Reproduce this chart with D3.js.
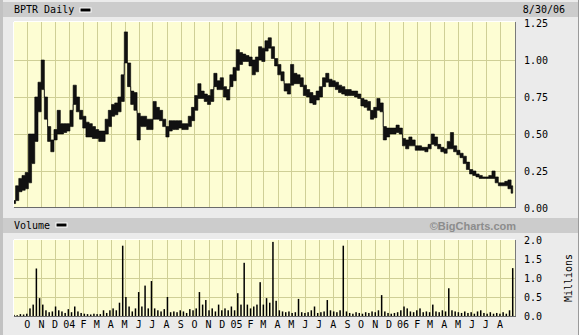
<!DOCTYPE html>
<html>
<head>
<meta charset="utf-8">
<script src="https://cdn.jsdelivr.net/npm/d3@7"></script>
<style>
body { margin:0; background:#ebebeb; }
svg { display:block; }
text { font-family:"DejaVu Sans Mono", monospace; font-size:10px; fill:#000; }
</style>
</head>
<body>
<script>
// weekly samples, first one on 2003-09-02, last one on 2006-08-29
var startDay = new Date(2003, 8, 2);
var priceHigh = [0.05,0.15,0.20,0.22,0.24,0.50,0.50,0.75,0.85,1.00,
  0.75,0.55,0.46,0.53,0.66,0.57,0.57,0.57,0.66,0.83,
  0.75,0.66,0.62,0.58,0.57,0.55,0.53,0.52,0.52,0.60,
  0.66,0.70,0.71,0.75,0.90,1.19,0.98,0.79,0.78,0.64,
  0.62,0.62,0.60,0.60,0.72,0.68,0.66,0.60,0.55,0.59,
  0.59,0.59,0.59,0.57,0.57,0.62,0.68,0.76,0.84,0.79,
  0.77,0.76,0.80,0.91,0.86,0.88,0.82,0.80,0.90,0.95,
  1.07,1.05,1.04,1.03,1.02,1.00,1.02,1.09,1.08,1.13,
  1.15,1.09,1.01,0.97,0.92,0.84,0.84,0.97,0.91,0.90,
  0.88,0.83,0.80,0.78,0.76,0.79,0.82,0.88,0.91,0.87,
  0.86,0.85,0.83,0.82,0.80,0.80,0.79,0.79,0.77,0.74,
  0.73,0.72,0.66,0.68,0.74,0.71,0.55,0.54,0.54,0.54,
  0.56,0.54,0.47,0.46,0.48,0.46,0.42,0.42,0.41,0.41,
  0.43,0.50,0.48,0.43,0.41,0.40,0.45,0.51,0.42,0.39,
  0.37,0.35,0.31,0.26,0.25,0.23,0.22,0.21,0.21,0.22,
  0.25,0.21,0.17,0.17,0.18,0.19,0.15];
var priceLow = [0.03,0.05,0.11,0.12,0.13,0.17,0.30,0.45,0.65,0.80,
  0.60,0.45,0.38,0.46,0.50,0.50,0.51,0.52,0.55,0.70,
  0.65,0.60,0.54,0.48,0.48,0.47,0.47,0.45,0.45,0.50,
  0.55,0.62,0.63,0.65,0.72,0.98,0.82,0.70,0.66,0.46,
  0.55,0.55,0.53,0.53,0.60,0.60,0.59,0.55,0.48,0.52,
  0.53,0.53,0.54,0.53,0.53,0.55,0.59,0.66,0.74,0.74,
  0.72,0.70,0.72,0.82,0.80,0.80,0.75,0.73,0.82,0.86,
  0.93,0.97,0.99,0.99,0.96,0.90,0.92,1.00,0.99,1.06,
  1.08,1.01,0.96,0.90,0.86,0.79,0.77,0.83,0.84,0.84,
  0.82,0.76,0.75,0.71,0.70,0.73,0.75,0.82,0.85,0.82,
  0.82,0.80,0.78,0.77,0.76,0.76,0.76,0.75,0.74,0.69,
  0.68,0.66,0.60,0.61,0.66,0.65,0.46,0.48,0.50,0.50,
  0.51,0.50,0.42,0.40,0.42,0.42,0.39,0.39,0.39,0.38,
  0.40,0.43,0.42,0.40,0.38,0.37,0.40,0.40,0.38,0.36,
  0.34,0.30,0.26,0.23,0.22,0.21,0.20,0.20,0.20,0.20,
  0.20,0.17,0.15,0.15,0.15,0.13,0.10];
var volume = [0.03,0.02,0.05,0.04,0.06,0.20,0.30,1.25,0.47,0.30,
  0.15,0.10,0.12,0.25,0.15,0.12,0.08,0.18,0.10,0.25,
  0.12,0.08,0.06,0.05,0.04,0.06,0.05,0.05,0.15,0.08,
  0.15,0.20,0.15,0.35,1.85,0.50,0.25,0.12,0.20,0.63,
  0.25,0.80,0.20,0.92,0.20,0.15,0.12,0.18,0.50,0.10,
  0.12,0.10,0.15,0.12,0.08,0.18,0.15,0.20,0.63,0.30,
  0.42,0.15,0.20,0.12,0.30,0.15,0.20,0.15,0.25,0.15,
  0.60,0.30,1.40,0.30,0.20,0.25,0.30,0.89,0.30,0.47,
  0.35,1.95,0.40,0.15,0.12,0.10,0.12,0.08,0.10,0.45,
  0.10,0.08,0.10,0.15,0.25,0.08,0.10,0.12,0.42,0.15,
  0.12,0.10,0.15,1.85,0.12,0.08,0.06,0.10,0.08,0.06,
  0.10,0.08,0.12,0.10,0.15,0.55,0.12,0.08,0.06,0.08,
  0.10,0.15,0.25,0.20,0.12,0.10,0.15,0.20,0.10,0.12,
  0.10,0.30,0.12,0.10,0.15,0.12,0.73,0.15,0.12,0.10,
  0.08,0.12,0.08,0.10,0.06,0.12,0.15,0.08,0.06,0.10,
  0.06,0.08,0.06,0.10,0.06,0.15,1.26];
var monthLabels = ["O","N","D","04","F","M","A","M","J","J","A","S",
  "O","N","D","05","F","M","A","M","J","J","A","S",
  "O","N","D","06","F","M","A","M","J","J","A"];
var priceTicks = [0, 0.25, 0.5, 0.75, 1.0, 1.25];
var volumeTicks = [0, 0.5, 1.0, 1.5, 2.0];

var weeks = priceHigh.map(function(d,i){ return d3.timeDay.offset(startDay, 7*i); });
var rows = weeks.map(function(d,i){ return {date:d, hi:priceHigh[i], lo:priceLow[i], vol:volume[i]}; });
var months = d3.timeMonth.range(new Date(2003,9,1), new Date(2006,8,1));

var W = 579, H = 335;
var left = 14, right = 515;
var pTop = 22, pBot = 207, vTop = 240, vBot = 316;

var svg = d3.select("body").append("svg").attr("width",W).attr("height",H);

var x = d3.scaleTime().domain([new Date(2003,8,2), new Date(2006,8,3)]).range([left,right]);
var y = d3.scaleLinear().domain([0,1.25]).range([208,23]);
var yv = d3.scaleLinear().domain([0,2]).range([vBot,vTop]);

// frame
svg.append("rect").attr("x",0).attr("y",0).attr("width",3).attr("height",H).attr("fill","#c2c2c2");
svg.append("rect").attr("x",W-1).attr("y",0).attr("width",1).attr("height",H).attr("fill","#9a9a9a");

// header bars
svg.append("rect").attr("x",3).attr("y",2).attr("width",W-4).attr("height",15).attr("fill","#cccccc");
svg.append("rect").attr("x",3).attr("y",218).attr("width",W-4).attr("height",15).attr("fill","#cccccc");

svg.append("text").text("BPTR Daily").attr("x",14).attr("y",13);
svg.append("rect").attr("x",80).attr("y",8).attr("width",11).attr("height",4).attr("fill","#000").attr("stroke","#fff");
svg.append("text").text("8/30/06").attr("x",565).attr("y",13).attr("text-anchor","end");

svg.append("text").text("Volume").attr("x",14).attr("y",229);
svg.append("rect").attr("x",56).attr("y",223).attr("width",11).attr("height",4).attr("fill","#000").attr("stroke","#fff");
svg.append("text").text("\u00a9BigCharts.com").attr("x",516).attr("y",230).attr("text-anchor","end")
  .style("font-family","'Liberation Sans', Arial, sans-serif").style("font-weight","bold")
  .style("font-size","11px").style("fill","#8c8c8c");

// panels
function panel(top, bot, yScale, hTicks, id){
  var g = svg.append("g");
  g.append("rect").attr("x",left).attr("y",top).attr("width",right-left).attr("height",bot-top).attr("fill","#fdfdd3");
  g.selectAll("line.v").data(months).enter().append("line").attr("class","v")
    .attr("x1",function(d){return Math.round(x(d))+0.5;}).attr("x2",function(d){return Math.round(x(d))+0.5;})
    .attr("y1",top).attr("y2",bot).attr("stroke","#cfcf96").attr("stroke-width",1);
  g.selectAll("line.h").data(hTicks).enter().append("line").attr("class","h")
    .attr("x1",left).attr("x2",right)
    .attr("y1",function(d){return Math.round(yScale(d))+0.5;}).attr("y2",function(d){return Math.round(yScale(d))+0.5;})
    .attr("stroke","#cfcf96").attr("stroke-width",1);
  svg.append("clipPath").attr("id",id).append("rect").attr("x",left).attr("y",top).attr("width",right-left).attr("height",bot-top);
  return g;
}
var gp = panel(pTop, pBot, y, [0.25,0.5,0.75,1.0], "clipP");
var gv = panel(vTop, vBot, yv, [0.5,1.0,1.5], "clipV");

// price band
var band = d3.area().curve(d3.curveStep)
  .x(function(d){return x(d.date);})
  .y0(function(d){return y(d.lo);})
  .y1(function(d){return y(d.hi);});
gp.append("path").datum(rows).attr("d",band).attr("clip-path","url(#clipP)")
  .attr("fill","#111").attr("stroke","#000").attr("stroke-width",0.6);

// volume bars
gv.selectAll("rect.vol").data(rows).enter().append("rect").attr("class","vol")
  .attr("x",function(d){return x(d.date)-0.75;}).attr("width",1.5)
  .attr("y",function(d){return yv(d.vol);}).attr("height",function(d){return vBot-yv(d.vol);})
  .attr("fill","#000").attr("clip-path","url(#clipV)");

// panel borders
[[pTop,pBot],[vTop,vBot]].forEach(function(p){
  svg.append("line").attr("x1",left).attr("x2",right).attr("y1",p[0]-0.5).attr("y2",p[0]-0.5).attr("stroke","#fff");
  svg.append("line").attr("x1",left-0.5).attr("x2",left-0.5).attr("y1",p[0]).attr("y2",p[1]).attr("stroke","#fff");
  svg.append("line").attr("x1",right+0.5).attr("x2",right+0.5).attr("y1",p[0]).attr("y2",p[1]+1).attr("stroke","#7a7a7a");
  svg.append("line").attr("x1",left).attr("x2",right+1).attr("y1",p[1]+0.5).attr("y2",p[1]+0.5).attr("stroke","#6a6a6a");
});

// right axes
svg.append("g").attr("transform","translate("+right+",0)")
  .call(d3.axisRight(y).tickValues(priceTicks).tickFormat(d3.format(".2f")).tickSize(0).tickPadding(9))
  .call(function(g){ g.select(".domain").remove(); g.selectAll("text").attr("dy","0.35em").style("font-family","'DejaVu Sans Mono', monospace").style("font-size","10px"); });
svg.append("g").attr("transform","translate("+right+",0)")
  .call(d3.axisRight(yv).tickValues(volumeTicks).tickFormat(d3.format(".1f")).tickSize(0).tickPadding(9))
  .call(function(g){ g.select(".domain").remove(); g.selectAll("text").attr("dy","0.35em").style("font-family","'DejaVu Sans Mono', monospace").style("font-size","10px"); });
svg.append("text").text("Millions").attr("transform","translate(572,278) rotate(-90)").attr("text-anchor","middle");

// month labels
svg.selectAll("text.month").data(months).enter().append("text").attr("class","month")
  .attr("x",function(d){return x(d);}).attr("y",328).attr("text-anchor","middle")
  .text(function(d,i){return monthLabels[i];});
</script>
</body>
</html>
